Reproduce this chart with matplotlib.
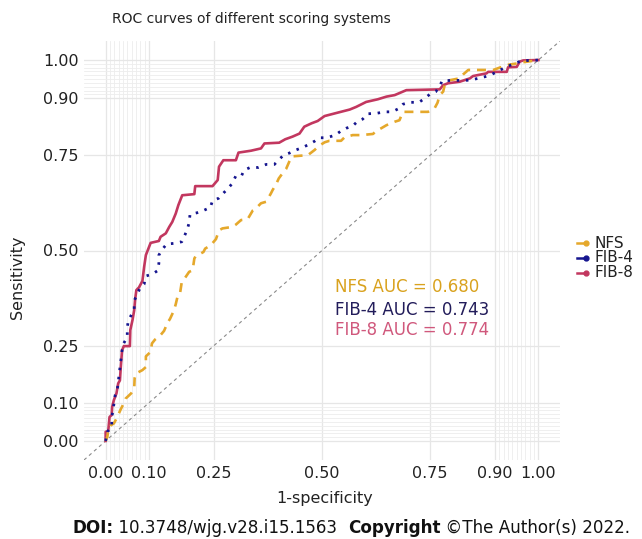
import matplotlib
matplotlib.use("Agg")
from matplotlib import pyplot as plt
from matplotlib.lines import Line2D

# ROC vertices (false positive rate, true positive rate) for each score
nfs_fpr = [0, 0.004, 0.006, 0.012, 0.019, 0.027, 0.034, 0.042, 0.046, 0.059, 0.066, 0.067, 0.070,
           0.085, 0.093, 0.093, 0.104, 0.107, 0.114, 0.127, 0.135, 0.143, 0.149, 0.158, 0.162,
           0.167, 0.172, 0.176, 0.181, 0.193, 0.201, 0.205, 0.208, 0.226, 0.230, 0.243, 0.255,
           0.262, 0.270, 0.293, 0.301, 0.313, 0.328, 0.340, 0.347, 0.359, 0.371, 0.382, 0.386,
           0.394, 0.400, 0.409, 0.417, 0.425, 0.430, 0.452, 0.467, 0.483, 0.492, 0.506, 0.517,
           0.544, 0.552, 0.571, 0.591, 0.618, 0.625, 0.637, 0.649, 0.668, 0.679, 0.687, 0.745,
           0.760, 0.767, 0.772, 0.780, 0.784, 0.795, 0.818, 0.826, 0.838, 0.896, 0.915, 0.927,
           0.950, 0.957, 1.0]
nfs_tpr = [0, 0.011, 0.028, 0.041, 0.046, 0.063, 0.081, 0.099, 0.111, 0.125, 0.138, 0.165, 0.177,
           0.186, 0.194, 0.222, 0.234, 0.256, 0.266, 0.278, 0.289, 0.310, 0.321, 0.343, 0.359,
           0.383, 0.388, 0.418, 0.424, 0.444, 0.448, 0.479, 0.485, 0.496, 0.505, 0.514, 0.530,
           0.553, 0.558, 0.562, 0.568, 0.580, 0.582, 0.605, 0.610, 0.624, 0.628, 0.650, 0.659,
           0.674, 0.689, 0.703, 0.714, 0.735, 0.747, 0.749, 0.750, 0.764, 0.774, 0.784, 0.788,
           0.788, 0.797, 0.803, 0.803, 0.806, 0.814, 0.821, 0.829, 0.838, 0.842, 0.864, 0.864,
           0.873, 0.888, 0.908, 0.917, 0.937, 0.947, 0.952, 0.962, 0.974, 0.974, 0.982, 0.987,
           0.991, 0.993, 1.0]

fib4_fpr = [0, 0.004, 0.014, 0.014, 0.019, 0.022, 0.027, 0.038, 0.042, 0.050, 0.050, 0.052, 0.066,
            0.066, 0.079, 0.089, 0.093, 0.108, 0.120, 0.123, 0.123, 0.131, 0.141, 0.161, 0.176,
            0.188, 0.193, 0.195, 0.211, 0.228, 0.242, 0.247, 0.261, 0.270, 0.281, 0.292, 0.301,
            0.314, 0.320, 0.334, 0.353, 0.371, 0.390, 0.399, 0.411, 0.425, 0.440, 0.454, 0.469,
            0.483, 0.494, 0.511, 0.531, 0.544, 0.556, 0.571, 0.583, 0.594, 0.606, 0.625, 0.645,
            0.662, 0.678, 0.687, 0.703, 0.724, 0.737, 0.749, 0.763, 0.772, 0.778, 0.842, 0.876,
            0.890, 0.919, 0.930, 0.961, 1.0]
fib4_tpr = [0, 0.024, 0.037, 0.060, 0.096, 0.120, 0.135, 0.238, 0.257, 0.272, 0.296, 0.314, 0.346,
            0.368, 0.400, 0.412, 0.433, 0.438, 0.447, 0.466, 0.488, 0.503, 0.517, 0.519, 0.523,
            0.553, 0.573, 0.595, 0.599, 0.606, 0.613, 0.631, 0.637, 0.648, 0.661, 0.675, 0.696,
            0.696, 0.711, 0.718, 0.718, 0.726, 0.726, 0.737, 0.750, 0.756, 0.764, 0.770, 0.778,
            0.787, 0.796, 0.796, 0.803, 0.814, 0.821, 0.827, 0.840, 0.845, 0.859, 0.860, 0.864,
            0.864, 0.873, 0.884, 0.889, 0.889, 0.899, 0.910, 0.917, 0.932, 0.946, 0.947, 0.956,
            0.961, 0.978, 0.984, 0.998, 1.0]

fib8_fpr = [0, 0, 0.006, 0.009, 0.014, 0.015, 0.019, 0.025, 0.029, 0.033, 0.035, 0.038, 0.042,
            0.056, 0.057, 0.062, 0.066, 0.068, 0.071, 0.077, 0.085, 0.089, 0.093, 0.104, 0.123,
            0.127, 0.139, 0.147, 0.154, 0.162, 0.168, 0.177, 0.205, 0.207, 0.247, 0.259, 0.262,
            0.272, 0.301, 0.307, 0.336, 0.359, 0.367, 0.401, 0.415, 0.432, 0.448, 0.459, 0.476,
            0.490, 0.506, 0.540, 0.564, 0.579, 0.602, 0.629, 0.649, 0.668, 0.695, 0.772, 0.780,
            0.791, 0.818, 0.842, 0.849, 0.880, 0.884, 0.927, 0.930, 0.950, 0.957, 0.965, 1.0]
fib8_tpr = [0, 0.024, 0.026, 0.063, 0.068, 0.089, 0.107, 0.125, 0.151, 0.159, 0.194, 0.238, 0.249,
            0.249, 0.291, 0.317, 0.343, 0.370, 0.396, 0.403, 0.420, 0.457, 0.488, 0.520, 0.525,
            0.536, 0.545, 0.562, 0.575, 0.597, 0.619, 0.645, 0.648, 0.669, 0.669, 0.685, 0.720,
            0.737, 0.737, 0.757, 0.762, 0.768, 0.781, 0.783, 0.792, 0.799, 0.807, 0.825, 0.834,
            0.840, 0.853, 0.863, 0.870, 0.877, 0.890, 0.897, 0.904, 0.908, 0.921, 0.923, 0.934,
            0.939, 0.943, 0.952, 0.958, 0.965, 0.969, 0.969, 0.981, 0.982, 0.996, 0.999, 1.0]

labels = ["NFS", "FIB-4", "FIB-8"]
auc_text = ["NFS AUC = 0.680", "FIB-4 AUC = 0.743", "FIB-8 AUC = 0.774"]

major_breaks = [0, 0.1, 0.25, 0.5, 0.75, 0.9, 1]
major_labels = ["0.00", "0.10", "0.25", "0.50", "0.75", "0.90", "1.00"]
minor_breaks = [i / 100 for i in range(1, 10)] + [i / 100 for i in range(91, 100)]

line_cols = ["#E5A82B", "#15158F", "#C2375F"]
text_cols = ["#D9A21E", "#221C5A", "#D0587C"]

W, H = 642, 539
fig = plt.figure(figsize=(W / 100, H / 100), dpi=100)
ax = fig.add_axes([84 / W, 1 - 460 / H, 476 / W, 419 / H])
ax.set_xlim(-0.05, 1.05)
ax.set_ylim(-0.05, 1.05)
for s in ax.spines.values():
    s.set_visible(False)

ax.set_xticks(major_breaks)
ax.set_xticklabels(major_labels)
ax.set_yticks(major_breaks)
ax.set_yticklabels(major_labels)
ax.set_xticks(minor_breaks, minor=True)
ax.set_yticks(minor_breaks, minor=True)
ax.tick_params(which="both", length=0)
ax.tick_params(axis="x", pad=4, labelsize=11.5, labelcolor="#222222")
ax.tick_params(axis="y", pad=4, labelsize=11.5, labelcolor="#222222")
ax.grid(which="major", color="#E6E6E6", lw=0.9)
ax.grid(which="minor", color="#EDEDED", lw=0.6)
ax.set_axisbelow(True)

# chance line
ax.axline((0, 0), (1, 1), color="#8A8A8A", lw=0.8, dashes=(3, 3), zorder=1.5)

ax.plot(fib8_fpr, fib8_tpr, color=line_cols[2], lw=1.9, zorder=2)
ax.plot(nfs_fpr, nfs_tpr, color=line_cols[0], lw=1.9, dashes=(3.4, 2.6), zorder=3)
ax.plot(fib4_fpr, fib4_tpr, color=line_cols[1], lw=2.0, dashes=(0.9, 2.4),
        dash_capstyle="butt", zorder=4)

for txt, col, yy in zip(auc_text, text_cols, [0.405, 0.345, 0.292]):
    ax.text(0.531, yy, txt, color=col, fontsize=12, va="center", ha="left")

fig.text(251.5 / W, 1 - 19 / H, "ROC curves of different scoring systems",
         ha="center", va="center", fontsize=10, color="#222222")
fig.text(325 / W, 1 - 498 / H, "1-specificity", ha="center", va="center",
         fontsize=11.5, color="#222222")
fig.text(18 / W, 1 - 277 / H, "Sensitivity", ha="center", va="center",
         rotation=90, fontsize=11.5, color="#222222")

# legend keys: short line ending in a dot
for lab, col, yy in zip(labels, line_cols, [243, 258, 273]):
    fy = 1 - yy / H
    fig.add_artist(Line2D([577 / W, 586 / W], [fy, fy], color=col, lw=1.8,
                          transform=fig.transFigure))
    fig.add_artist(Line2D([586 / W], [fy], color=col, marker="o", ms=3.5,
                          transform=fig.transFigure))
    fig.text(594 / W, fy, lab, ha="left", va="center", fontsize=11, color="#222222")

# footer line, bold and regular pieces placed one after another
renderer = fig.canvas.get_renderer()
pieces = [("DOI:", "bold"), (" 10.3748/wjg.v28.i15.1563  ", "normal"),
          ("Copyright", "bold"), (" \u00a9The Author(s) 2022.", "normal")]
x = 72
for txt, wt in pieces:
    t = fig.text(x / W, 1 - 528 / H, txt, ha="left", va="center", fontsize=12.1,
                 fontweight=wt, color="#111111")
    x += t.get_window_extent(renderer).width

fig.savefig("out.png", dpi=100)
